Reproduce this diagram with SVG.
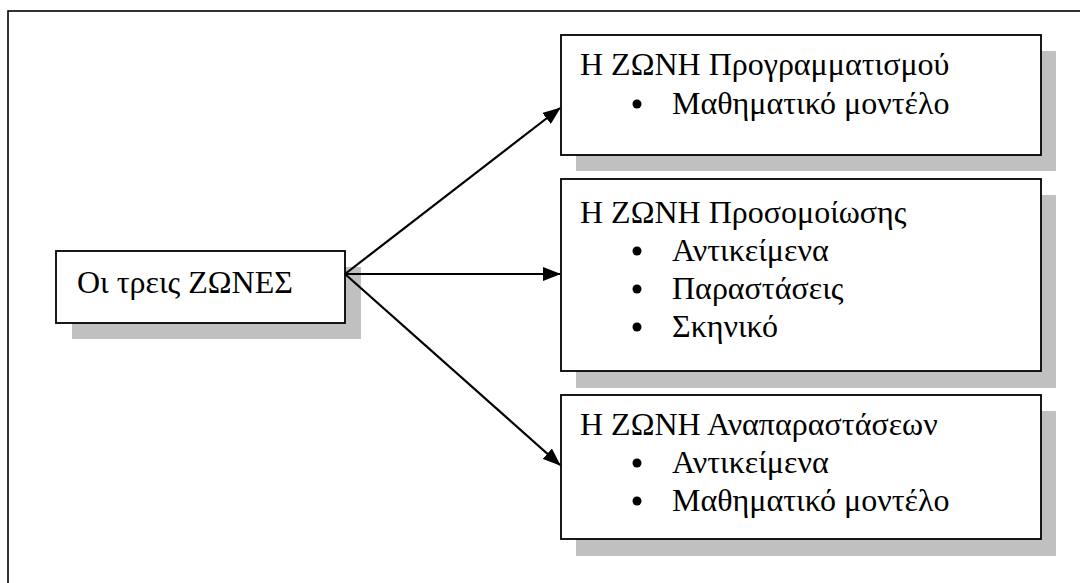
<svg xmlns="http://www.w3.org/2000/svg" width="1080" height="583" viewBox="0 0 1080 583">
  <style>
    .frame { fill: none; stroke: #000; stroke-width: 1.6; }
    .shadow { fill: #c0c0c0; }
    .box { fill: #fff; stroke: #000; stroke-width: 1.8; }
    .txt { font-size: 32px; fill: #000; }
    .bullet { fill: #000; }
    .conn { stroke: #000; stroke-width: 2.2; fill: none; marker-end: url(#arrow); }
  </style>
  <defs>
    <marker id="arrow" viewBox="0 0 18 14" refX="17" refY="7" markerWidth="18" markerHeight="14" markerUnits="userSpaceOnUse" orient="auto">
      <path d="M0,0 L18,7 L0,14 Z" fill="#000"/>
    </marker>
  </defs>

  <rect width="1080" height="583" fill="#fff"/>
  <!-- outer page frame -->
  <rect class="frame" x="8" y="11" width="1100" height="600"/>

  <g font-family="Liberation Serif, Times New Roman, serif">
    <!-- source node -->
    <g id="zones">
      <rect class="shadow" x="72" y="267" width="289" height="72"/>
      <rect class="box" x="56" y="251" width="289" height="72"/>
      <text class="txt" x="77" y="293">Οι τρεις ΖΩΝΕΣ</text>
    </g>

    <!-- programming zone -->
    <g id="zone-programming">
      <rect class="shadow" x="576" y="51" width="480" height="120"/>
      <rect class="box" x="561" y="35" width="480" height="120"/>
      <text class="txt" x="580" y="75">Η ΖΩΝΗ Προγραμματισμού</text>
      <circle class="bullet" cx="637" cy="104" r="4.5"/>
      <text class="txt" x="672" y="114">Μαθηματικό μοντέλο</text>
    </g>

    <!-- simulation zone -->
    <g id="zone-simulation">
      <rect class="shadow" x="576" y="195" width="480" height="193"/>
      <rect class="box" x="561" y="179" width="480" height="192"/>
      <text class="txt" x="580" y="223">Η ΖΩΝΗ Προσομοίωσης</text>
      <circle class="bullet" cx="637" cy="251" r="4.5"/>
      <text class="txt" x="672" y="261">Αντικείμενα</text>
      <circle class="bullet" cx="637" cy="289" r="4.5"/>
      <text class="txt" x="672" y="299">Παραστάσεις</text>
      <circle class="bullet" cx="637" cy="327" r="4.5"/>
      <text class="txt" x="672" y="337">Σκηνικό</text>
    </g>

    <!-- representation zone -->
    <g id="zone-representation">
      <rect class="shadow" x="576" y="411" width="480" height="145"/>
      <rect class="box" x="561" y="395" width="480" height="144"/>
      <text class="txt" x="580" y="435">Η ΖΩΝΗ Αναπαραστάσεων</text>
      <circle class="bullet" cx="637" cy="463" r="4.5"/>
      <text class="txt" x="672" y="473">Αντικείμενα</text>
      <circle class="bullet" cx="637" cy="501" r="4.5"/>
      <text class="txt" x="672" y="511">Μαθηματικό μοντέλο</text>
    </g>
  </g>

  <!-- connectors, drawn over the node shadows -->
  <g id="connectors">
    <line class="conn" x1="345" y1="274" x2="560" y2="108"/>
    <line class="conn" x1="345" y1="274" x2="560" y2="274"/>
    <line class="conn" x1="345" y1="274" x2="560" y2="465"/>
  </g>
</svg>
